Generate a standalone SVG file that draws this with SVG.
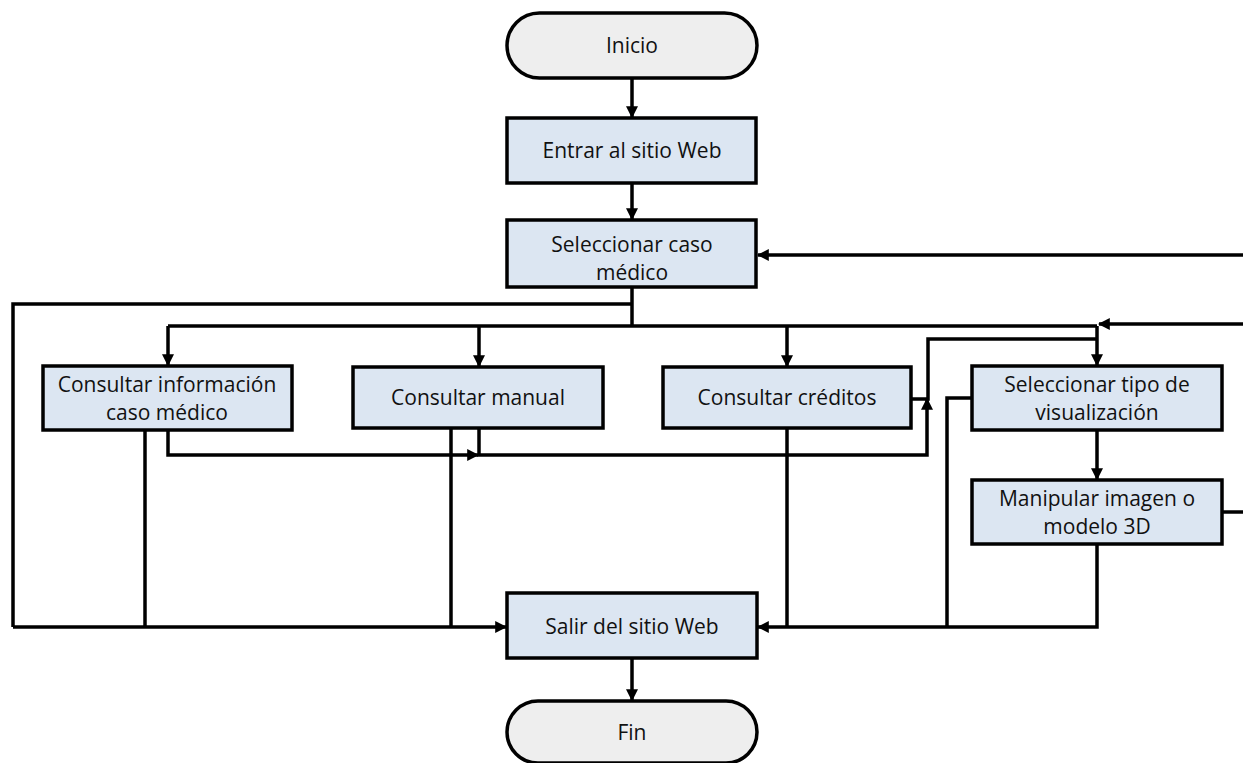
<svg xmlns="http://www.w3.org/2000/svg" width="1243" height="763" viewBox="0 0 1243 763">
  <style>
    .term { fill: #eeeeee; stroke: #000; stroke-width: 3.5; }
    .proc { fill: #dce6f2; stroke: #000; stroke-width: 3.5; }
    .lbl { font-family: "Open Sans", "Liberation Sans", sans-serif; font-size: 21px; fill: #111; text-anchor: middle; }
    .wire { fill: none; stroke: #000; stroke-width: 3.5; stroke-linejoin: miter; }
    .arr { marker-end: url(#head); }
  </style>
  <defs>
    <marker id="head" viewBox="0 0 10 10" refX="9" refY="5" markerUnits="userSpaceOnUse" markerWidth="12" markerHeight="13" orient="auto">
      <path d="M0,0 L10,5 L0,10 z" fill="#000"/>
    </marker>
  </defs>
  <rect width="1243" height="763" fill="#fff"/>

  <!-- connectors -->
  <g id="connectors">
    <path class="wire arr" d="M632,78 V117"/>
    <path class="wire arr" d="M632,183 V219"/>
    <path class="wire arr" d="M1243,255 H758"/>
    <!-- trunk under "Seleccionar caso médico" -->
    <path class="wire" d="M632,287 V326"/>
    <path class="wire" d="M632,304 H13 V627"/>
    <path class="wire arr" d="M13,627 H506"/>
    <!-- branch bus -->
    <path class="wire" d="M168,326 H1097"/>
    <path class="wire arr" d="M168,326 V365"/>
    <path class="wire arr" d="M479,326 V366"/>
    <path class="wire arr" d="M787,326 V366"/>
    <path class="wire arr" d="M1097,326 V365"/>
    <path class="wire arr" d="M1243,324 H1099"/>
    <!-- from "Consultar información" -->
    <path class="wire" d="M145,430 V627"/>
    <path class="wire arr" d="M168,430 V455 H478"/>
    <!-- from "Consultar manual" -->
    <path class="wire" d="M451,428 V627"/>
    <path class="wire arr" d="M479,428 V455 H927 V399"/>
    <!-- from "Consultar créditos" -->
    <path class="wire" d="M911,399 H928 V339 H1097"/>
    <path class="wire" d="M787,428 V627"/>
    <!-- right side into "Salir del sitio Web" -->
    <path class="wire" d="M972,398 H947 V627"/>
    <path class="wire arr" d="M1097,544 V627 H758"/>
    <path class="wire arr" d="M1097,430 V479"/>
    <path class="wire" d="M1222,512 H1243"/>
    <path class="wire arr" d="M632,658 V700"/>
  </g>

  <g id="inicio">
    <rect class="term" x="507" y="13" width="250" height="65" rx="32.5" ry="32.5"/>
    <text class="lbl" x="632" y="53">Inicio</text>
  </g>
  <g id="entrar">
    <rect class="proc" x="507" y="118" width="249" height="65"/>
    <text class="lbl" x="632" y="158">Entrar al sitio Web</text>
  </g>
  <g id="seleccionar-caso">
    <rect class="proc" x="507" y="220" width="249" height="67"/>
    <text class="lbl" x="632" y="252">Seleccionar caso</text>
    <text class="lbl" x="632" y="280">médico</text>
  </g>
  <g id="consultar-info">
    <rect class="proc" x="43" y="366" width="249" height="64"/>
    <text class="lbl" x="167" y="392">Consultar información</text>
    <text class="lbl" x="167" y="420">caso médico</text>
  </g>
  <g id="consultar-manual">
    <rect class="proc" x="353" y="367" width="250" height="61"/>
    <text class="lbl" x="478" y="405">Consultar manual</text>
  </g>
  <g id="consultar-creditos">
    <rect class="proc" x="663" y="367" width="248" height="61"/>
    <text class="lbl" x="787" y="405">Consultar créditos</text>
  </g>
  <g id="seleccionar-tipo">
    <rect class="proc" x="972" y="366" width="250" height="64"/>
    <text class="lbl" x="1097" y="392">Seleccionar tipo de</text>
    <text class="lbl" x="1097" y="420">visualización</text>
  </g>
  <g id="manipular">
    <rect class="proc" x="972" y="480" width="250" height="64"/>
    <text class="lbl" x="1097" y="506">Manipular imagen o</text>
    <text class="lbl" x="1097" y="534">modelo 3D</text>
  </g>
  <g id="salir">
    <rect class="proc" x="507" y="593" width="250" height="65"/>
    <text class="lbl" x="632" y="634">Salir del sitio Web</text>
  </g>
  <g id="fin">
    <rect class="term" x="507" y="701" width="250" height="62" rx="31" ry="31"/>
    <text class="lbl" x="632" y="740">Fin</text>
  </g>
</svg>
